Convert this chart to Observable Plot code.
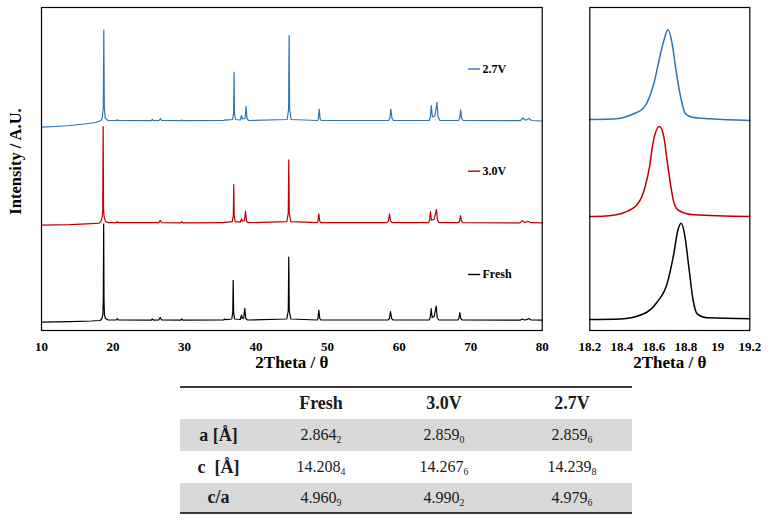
<!DOCTYPE html>
<html>
<head>
<meta charset="utf-8">
<script src="https://cdn.jsdelivr.net/npm/d3@7"></script>
<script src="https://cdn.jsdelivr.net/npm/@observablehq/plot@0.6"></script>
<style>
  html, body { margin: 0; padding: 0; background: #fff; }
  #wrap { position: relative; width: 771px; height: 521px; overflow: hidden; background: #fff; }
  #wrap svg { position: absolute; top: 0; font-family: "Liberation Serif", serif !important; }
  #wrap svg text { font-family: "Liberation Serif", serif; }
  table.lat { position: absolute; left: 180px; top: 386px; width: 452px; border-collapse: collapse;
    font-family: "Liberation Serif", serif; color: #1a1a1a; table-layout: fixed; }
  table.lat td, table.lat th { padding: 0; text-align: center; vertical-align: middle; }
  table.lat thead tr { border-top: 2px solid #3a3a3a; }
  table.lat thead th { font-weight: bold; font-size: 18px; height: 31px; }
  table.lat tbody tr:last-child { border-bottom: 2px solid #3a3a3a; }
  table.lat tbody tr.g { background: #d9d9d9; }
  table.lat tbody th { font-weight: bold; font-size: 18px; }
  table.lat tbody td { font-size: 16px; }
  table.lat sub { font-size: 0.62em; vertical-align: baseline; position: relative; top: 0.35em; line-height: 0; }
</style>
</head>
<body>
<div id="wrap"></div>
<script>
// ---------- data ----------
const seriesNames = ["Fresh", "3.0V", "2.7V"];
const seriesColors = ["#000000", "#c00000", "#2e75b6"];
// stacking offsets (a.u.) of each pattern
const mainOffsets = [10, 107.3, 209.5];
const zoomOffsets = [11, 114, 211];

const mainTicks = [10, 20, 30, 40, 50, 60, 70, 80];
const zoomTicks = [18.2, 18.4, 18.6, 18.8, 19, 19.2];

// full-range patterns: [2theta, intensity a.u.]
const freshMain = [
  [10,-1.7],[14,-1.2],[17,-0.5],[18.2,0],[18.45,2],[18.58,6],[18.64,20],[18.69,96.5],[18.74,20],[18.8,6],[18.95,2],[19.3,0.5],
  [20.45,0.5],[20.6,2],[20.75,0.5],
  [25.35,0.3],[25.5,1.5],[25.65,0.3],
  [26.4,0.5],[26.6,3],[26.8,0.5],
  [29.45,0.3],[29.6,1.5],[29.75,0.3],
  [35.45,0.5],[35.6,1.5],[35.75,0.8],
  [36.6,1.5],[36.74,8],[36.8,40.2],[36.86,8],[37.0,1.5],
  [37.8,1],[37.96,5.5],[38.1,2],[38.28,2.5],[38.42,12.2],[38.56,2],[38.8,0.5],
  [44.3,1.5],[44.5,10],[44.57,63.5],[44.64,10],[44.85,1.5],
  [48.55,0.5],[48.65,2],[48.77,10.5],[48.9,2],[49.05,0.5],
  [58.45,0.5],[58.65,2],[58.79,8.8],[58.95,2],[59.15,0.5],
  [64.2,0.5],[64.35,3],[64.48,11.8],[64.62,3],[64.9,4],[65.18,14.5],[65.32,3],[65.55,0.5],
  [68.2,0.5],[68.35,2],[68.48,7.8],[68.62,2],[68.8,0.5],
  [76.9,0.3],[77.2,1.5],[77.5,0.5],[77.8,0.8],[78.1,2],[78.45,0.5],[80,0.3]
];
const v30Main = [
  [10,-2],[14,-1.5],[17,-0.5],[18.1,0],[18.35,2.5],[18.5,7],[18.56,12],[18.62,96.7],[18.68,14],[18.76,6],[18.95,2],[19.3,0.5],
  [20.5,0.5],[20.6,1.5],[20.75,0.5],
  [26.4,0.5],[26.6,3],[26.8,0.5],
  [29.45,0.3],[29.6,1.5],[29.75,0.3],
  [35.45,0.5],[35.6,1.2],[35.75,0.8],
  [36.68,1.5],[36.82,8],[36.88,38.7],[36.94,8],[37.08,1.5],
  [37.8,1],[37.96,4.4],[38.1,2],[38.38,2.5],[38.52,12],[38.66,2],[38.9,0.5],
  [44.3,1.5],[44.5,10],[44.57,63.4],[44.64,10],[44.85,1.5],
  [48.55,0.5],[48.65,2],[48.77,9.4],[48.9,2],[49.05,0.5],
  [58.3,0.5],[58.5,2],[58.65,9.4],[58.8,2],[59.0,0.5],
  [64.1,0.5],[64.25,3],[64.38,11.7],[64.52,3],[64.9,4],[65.22,13.7],[65.36,3],[65.6,0.5],
  [68.3,0.5],[68.45,2],[68.58,7.7],[68.72,2],[68.9,0.5],
  [76.9,0.3],[77.2,2.5],[77.5,0.8],[77.75,1],[78.0,2],[78.4,0.5],[80,0.3]
];
const v27Main = [
  [10,-6.2],[12,-5.5],[14,-4.5],[16,-3],[17.6,-1.5],[18.3,0.5],[18.5,3],[18.64,14],[18.71,91.2],[18.78,14],[18.9,3],[19.3,0.5],
  [20.5,0.5],[20.6,1.2],[20.75,0.5],
  [25.35,0.3],[25.5,1.5],[25.65,0.3],
  [26.45,0.5],[26.62,2.5],[26.8,0.5],
  [29.45,0.3],[29.6,1],[29.75,0.3],
  [35.45,0.5],[35.6,1.2],[35.75,0.8],
  [36.72,1.5],[36.86,8],[36.92,48.8],[36.98,8],[37.12,1.5],
  [37.8,1],[37.96,5.5],[38.1,2],[38.46,2.5],[38.6,14.5],[38.74,2],[39.0,0.5],
  [44.35,1.5],[44.55,12],[44.62,85.5],[44.69,12],[44.9,1.5],
  [48.6,0.5],[48.7,2],[48.82,12],[48.95,2],[49.1,0.5],
  [58.5,0.5],[58.7,2.5],[58.84,12],[59.0,2.5],[59.2,0.5],
  [64.2,0.5],[64.36,4],[64.5,15.5],[64.64,4],[65.0,5],[65.3,18.8],[65.44,4],[65.7,0.5],
  [68.3,0.5],[68.47,2.5],[68.6,11.2],[68.74,2.5],[68.95,0.5],
  [76.95,0.3],[77.3,3],[77.6,1],[77.85,1.2],[78.15,2.5],[78.5,0.5],[80,0]
];

// (003) peak detail: [2theta, intensity a.u.]
const freshZoom = [
  [18.2,0],[18.39,0.5],[18.5375,5.7],[18.62,17.3],[18.683,35.7],[18.725,65.7],[18.75,89],[18.771,96.3],
  [18.792,85.7],[18.819,52.3],[18.846,19],[18.871,5.7],[18.933,1.7],[19.2,0.7]
];
const v30Zoom = [
  [18.2,0],[18.3,0.5],[18.42,4.3],[18.5,12.7],[18.545,29.3],[18.573,49.3],[18.594,72.7],[18.636,90],
  [18.663,79.3],[18.683,56],[18.704,32.7],[18.725,14.3],[18.756,6],[18.85,1.7],[19.2,0]
];
const v27Zoom = [
  [18.2,0],[18.3,0.2],[18.39,1.3],[18.475,5.7],[18.5375,11.7],[18.6,35.7],[18.642,65.7],[18.663,79],[18.6875,89.7],
  [18.715,75.7],[18.736,52.3],[18.756,32.3],[18.777,15.7],[18.798,5.7],[18.84,2.3],[18.954,0.7],[19.2,-1]
];

// lattice parameter table
const tableHeader = ["Fresh", "3.0V", "2.7V"];
const rowLabels = ["a [Å]", "c\u00a0 [Å]", "c/a"];
const aValues = ["2.8642", "2.8590", "2.8596"];
const cValues = ["14.2084", "14.2676", "14.2398"];
const caValues = ["4.9609", "4.9902", "4.9796"];

// ---------- build ----------
const mainSets = [freshMain, v30Main, v27Main];
const zoomSets = [freshZoom, v30Zoom, v27Zoom];
function rows(sets, offsets) {
  const out = [];
  sets.forEach((pts, i) => pts.forEach(([t, v]) =>
    out.push({series: seriesNames[i], color: seriesColors[i], theta: t, value: v + offsets[i]})));
  return out;
}
const mainRows = rows(mainSets, mainOffsets);
const zoomRows = rows(zoomSets, zoomOffsets);
const legendRows = seriesNames.map((n, i) => ({name: n, color: seriesColors[i],
  y: mainOffsets[i] + (i === 0 ? 46 : 52)}));

const baseStyle = {fontFamily: "'Liberation Serif', serif", fontSize: "13px", fontWeight: "bold",
  color: "black", background: "transparent", overflow: "visible"};
const FONT = "'Liberation Serif', serif";

const main = Plot.plot({
  width: 560, height: 380,
  marginLeft: 41, marginRight: 18.3, marginTop: 7, marginBottom: 50,
  x: {domain: [10, 80]},
  y: {domain: [0, 323], axis: null},
  color: {type: "identity"},
  style: baseStyle,
  marks: [
    Plot.line(mainRows, {x: "theta", y: "value", z: "series", stroke: "color", strokeWidth: 1.2}),
    Plot.frame({stroke: "black", strokeWidth: 1.2}),
    Plot.axisX({ticks: mainTicks, tickSize: 0, tickPadding: 11, label: null, tickFormat: d => String(d),
      fontSize: 13, fontWeight: "bold", fontFamily: FONT, fill: "black"}),
    Plot.ruleY(legendRows, {y: "y", x1: 69.7, x2: 71.4, stroke: "color", strokeWidth: 1.4}),
    Plot.text(legendRows, {x: 71.65, y: "y", text: "name", textAnchor: "start", fontSize: 12, fontWeight: "bold", fontFamily: FONT, fill: "black"}),
    Plot.text(["2Theta / θ"], {frameAnchor: "bottom", textAnchor: "middle", dy: 37, text: d => d, fontSize: 17, fontWeight: "bold", fontFamily: FONT, fill: "black"}),
    Plot.text(["Intensity / A.U."], {frameAnchor: "left", textAnchor: "middle", dx: -26, dy: -7.5, rotate: -90, text: d => d, fontSize: 16.5, fontWeight: "bold", fontFamily: FONT, fill: "black"})
  ]
});

const zoom = Plot.plot({
  width: 205, height: 380,
  marginLeft: 29.3, marginRight: 15.7, marginTop: 7, marginBottom: 50,
  x: {domain: [18.2, 19.2]},
  y: {domain: [0, 323], axis: null},
  color: {type: "identity"},
  style: baseStyle,
  marks: [
    Plot.line(zoomRows, {x: "theta", y: "value", z: "series", stroke: "color", strokeWidth: 1.5, curve: "monotone-x"}),
    Plot.frame({stroke: "black", strokeWidth: 1.2}),
    Plot.axisX({ticks: zoomTicks, tickSize: 0, tickPadding: 11, label: null, tickFormat: d => String(d),
      fontSize: 13, fontWeight: "bold", fontFamily: FONT, fill: "black"}),
    Plot.text(["2Theta / θ"], {frameAnchor: "bottom", textAnchor: "middle", dy: 37, text: d => d, fontSize: 17, fontWeight: "bold", fontFamily: FONT, fill: "black"})
  ]
});

const wrap = document.getElementById("wrap");
main.style.left = "0px";
zoom.style.left = "560px";
wrap.appendChild(main);
wrap.appendChild(zoom);

// table
function fmt(s) { return s.slice(0, -1) + "<sub>" + s.slice(-1) + "</sub>"; }
const valueRows = [aValues, cValues, caValues];
const heights = [32, 32, 30];
let html = '<table class="lat"><colgroup><col style="width:77px"><col style="width:128px"><col style="width:118px"><col style="width:129px"></colgroup>';
html += '<thead><tr><th></th>' + tableHeader.map((h, j) => `<th${j === 2 ? ' style="padding-left:9px"' : ''}>${h}</th>`).join("") + '</tr></thead><tbody>';
valueRows.forEach((vals, i) => {
  html += `<tr class="${i === 1 ? '' : 'g'}" style="height:${heights[i]}px"><th>${rowLabels[i]}</th>` +
    vals.map((v, j) => `<td${j === 2 ? ' style="padding-left:9px"' : ''}>${fmt(v)}</td>`).join("") + '</tr>';
});
html += '</tbody></table>';
wrap.insertAdjacentHTML("beforeend", html);
</script>
</body>
</html>
